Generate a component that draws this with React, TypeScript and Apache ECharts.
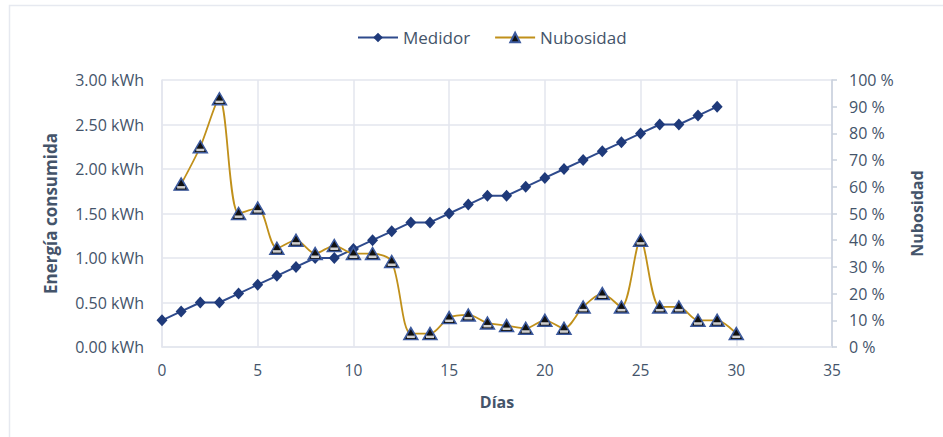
import React, { useEffect, useRef } from "react";
import * as echarts from "echarts";

const medidorDays = [0, 1, 2, 3, 4, 5, 6, 7, 8, 9, 10, 11, 12, 13, 14, 15, 16, 17, 18, 19, 20, 21, 22, 23, 24, 25, 26, 27, 28, 29];
const medidorKWh = [0.3, 0.4, 0.5, 0.5, 0.6, 0.7, 0.8, 0.9, 1.0, 1.0, 1.1, 1.2, 1.3, 1.4, 1.4, 1.5, 1.6, 1.7, 1.7, 1.8, 1.9, 2.0, 2.1, 2.2, 2.3, 2.4, 2.5, 2.5, 2.6, 2.7];

const nubosidadDays = [1, 2, 3, 4, 5, 6, 7, 8, 9, 10, 11, 12, 13, 14, 15, 16, 17, 18, 19, 20, 21, 22, 23, 24, 25, 26, 27, 28, 29, 30];
const nubosidadPct = [61, 75, 93, 50, 52, 37, 40, 35, 38, 35, 35, 32, 5, 5, 11, 12, 9, 8, 7, 10, 7, 15, 20, 15, 40, 15, 15, 10, 10, 5];

const xTicks = { min: 0, max: 35, interval: 5 };
const leftTicks = { min: 0, max: 3, interval: 0.5 };
const rightTicks = { min: 0, max: 100, interval: 10 };

const TEXT = "#44546A";
const GRID = "#E3E6EE";
const FONT = "'Open Sans', Lato, sans-serif";

export default function App() {
  const ref = useRef<HTMLDivElement>(null);
  useEffect(() => {
    if (!ref.current) return;
    const chart = echarts.init(ref.current, undefined, { renderer: "svg" });
    const nubData = nubosidadDays.map((d, i) => [d, nubosidadPct[i]]);
    chart.setOption({
      animation: false,
      textStyle: { fontFamily: FONT },
      graphic: [
        {
          type: "rect",
          shape: { x: 9.5, y: 5.5, width: 1200, height: 1200 },
          style: { fill: "none", stroke: "#E6E9F0", lineWidth: 1.5 },
          silent: true,
          z: -10,
        },
      ],
      legend: {
        top: 24,
        left: 352,
        itemGap: 24,
        itemWidth: 40,
        itemHeight: 12,
        textStyle: { color: TEXT, fontSize: 17, fontFamily: FONT },
        data: ["Medidor", "Nubosidad"],
      },
      grid: { left: 162, right: 111, top: 80, bottom: 90, containLabel: false },
      xAxis: {
        type: "value",
        min: xTicks.min,
        max: xTicks.max,
        interval: xTicks.interval,
        name: "Días",
        nameLocation: "middle",
        nameGap: 47,
        nameTextStyle: { color: TEXT, fontSize: 16, fontWeight: "bold", fontFamily: FONT },
        axisLine: { show: true, lineStyle: { color: GRID, width: 1.5 } },
        axisTick: { show: false },
        axisLabel: { color: TEXT, fontSize: 15.5, margin: 15, fontFamily: FONT },
        splitLine: { show: true, lineStyle: { color: GRID, width: 1.5 } },
      },
      yAxis: [
        {
          type: "value",
          position: "left",
          min: leftTicks.min,
          max: leftTicks.max,
          interval: leftTicks.interval,
          name: "Energía consumida",
          nameLocation: "middle",
          nameRotate: 90,
          nameGap: 103,
          nameTextStyle: { color: TEXT, fontSize: 17, fontWeight: "bold", fontFamily: FONT },
          axisLine: { show: true, lineStyle: { color: GRID, width: 1.5 } },
          axisTick: { show: false },
          axisLabel: {
            color: TEXT,
            fontSize: 16,
            margin: 18,
            fontFamily: FONT,
            formatter: (v: number) => v.toFixed(2) + " kWh",
          },
          splitLine: { show: true, lineStyle: { color: GRID, width: 1.5 } },
        },
        {
          type: "value",
          position: "right",
          min: rightTicks.min,
          max: rightTicks.max,
          interval: rightTicks.interval,
          name: "Nubosidad",
          nameLocation: "middle",
          nameRotate: 90,
          nameGap: 77,
          nameTextStyle: { color: TEXT, fontSize: 16, fontWeight: "bold", fontFamily: FONT },
          axisLine: { show: true, lineStyle: { color: "#C9D0DC", width: 1.5 } },
          axisTick: { show: true, inside: false, length: 5, lineStyle: { color: "#C9D0DC", width: 1.5 } },
          axisLabel: {
            color: TEXT,
            fontSize: 16,
            margin: 17,
            fontFamily: FONT,
            formatter: (v: number) => v + " %",
          },
          splitLine: { show: false },
        },
      ],
      series: [
        {
          name: "Medidor",
          type: "line",
          yAxisIndex: 0,
          data: medidorDays.map((d, i) => [d, medidorKWh[i]]),
          symbol: "diamond",
          symbolSize: [11, 12],
          lineStyle: { color: "#2E4A8C", width: 2 },
          itemStyle: { color: "#1F3A7A" },
          z: 2,
        },
        {
          name: "Nubosidad",
          type: "line",
          yAxisIndex: 1,
          data: nubData,
          smooth: 0.3,
          symbol: "triangle",
          symbolSize: [14, 12],
          lineStyle: { color: "#C0901A", width: 1.8 },
          itemStyle: { color: "#111111", borderColor: "#3C5A9E", borderWidth: 1.5 },
          z: 3,
        },
        {
          name: "NubosidadBand",
          type: "scatter",
          yAxisIndex: 1,
          data: nubData,
          symbol: "rect",
          symbolSize: [8, 2.5],
          symbolOffset: [0, 3.2],
          itemStyle: { color: "#ffffff" },
          silent: true,
          z: 4,
        },
      ],
    });
    return () => chart.dispose();
  }, []);
  return (
    <div
      ref={ref}
      style={{ position: "absolute", left: 0, top: 0, width: 943, height: 437, background: "#fff" }}
    />
  );
}
